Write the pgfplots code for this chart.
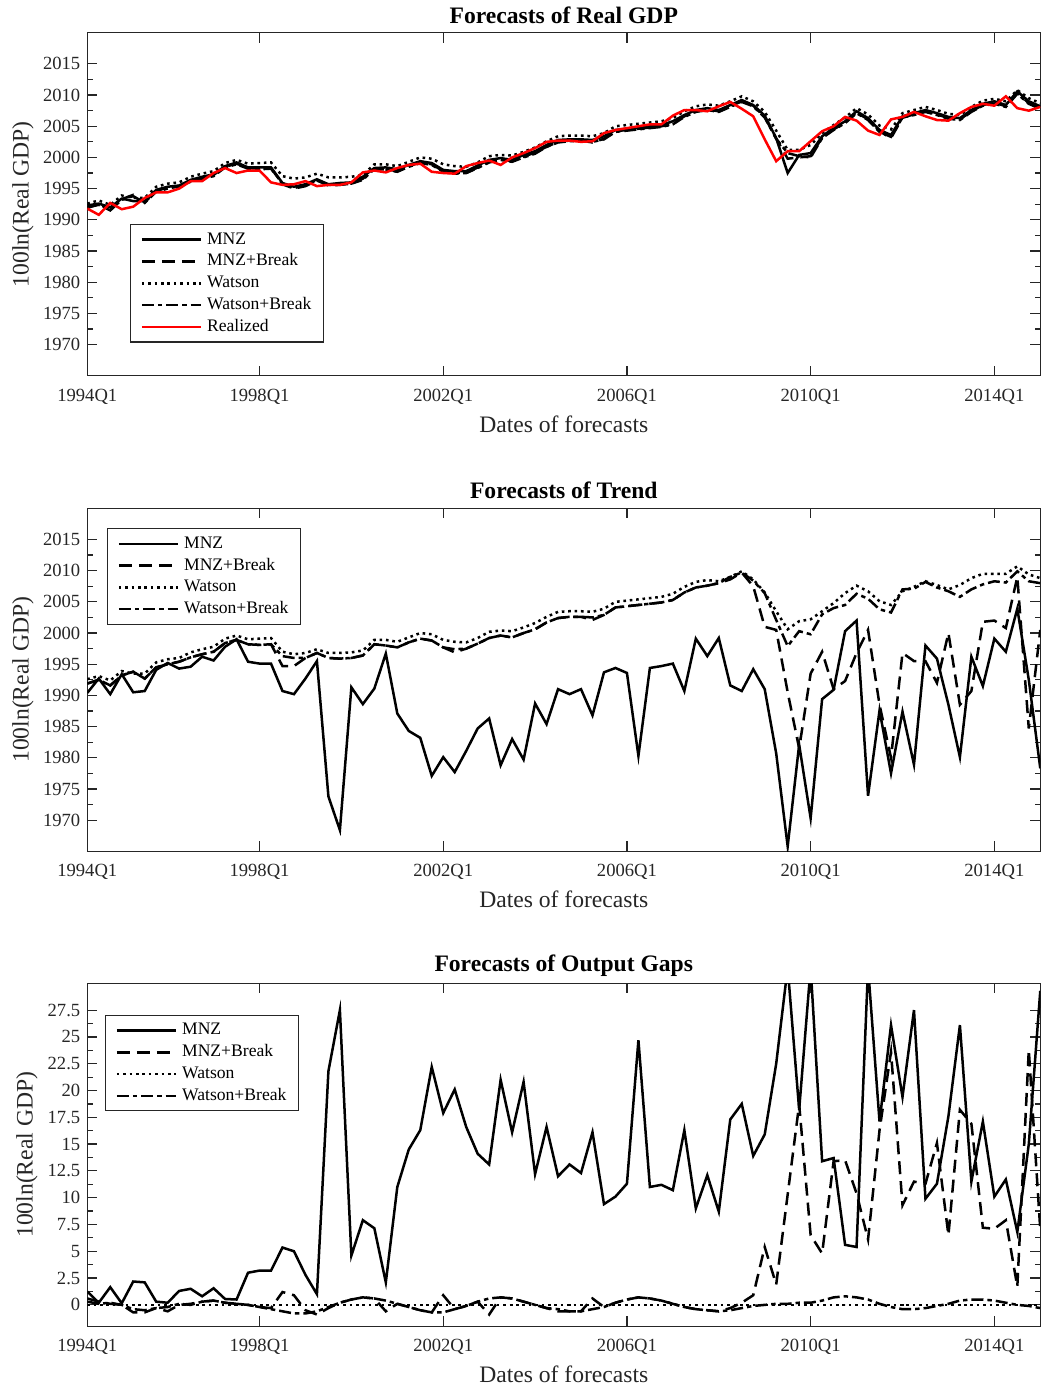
\documentclass[border=0pt]{standalone}
\usepackage{fontspec}
\setmainfont{Liberation Serif}
\usepackage{pgfplots}
\usepackage{pgfplotstable}
\pgfplotsset{compat=1.18}

\definecolor{axgray}{RGB}{38,38,38}

% quarter index 1 = 1994Q1
\pgfplotstableread{
q mnz mnzb wat watb real
1 1992.3 1992.0 1992.6 1991.9 1991.8
2 1992.6 1992.4 1993.1 1992.5 1990.8
3 1992.0 1991.5 1992.4 1991.6 1992.7
4 1993.4 1993.3 1993.9 1993.2 1991.7
5 1993.0 1994.0 1993.5 1993.8 1992.1
6 1993.0 1992.8 1993.5 1992.7 1993.5
7 1994.8 1994.6 1995.3 1994.5 1994.4
8 1995.3 1995.2 1995.8 1995.0 1994.4
9 1995.5 1995.3 1996.0 1995.4 1995.0
10 1996.4 1996.2 1996.9 1996.1 1996.2
11 1996.9 1996.7 1997.4 1996.6 1996.2
12 1997.3 1997.2 1997.8 1997.0 1997.5
13 1998.6 1998.5 1999.1 1998.4 1998.3
14 1999.2 1999.0 1999.6 1998.9 1997.5
15 1998.4 1998.3 1999.0 1998.2 1997.9
16 1998.4 1998.2 1999.1 1998.1 1997.9
17 1998.4 1998.3 1999.2 1998.2 1996.0
18 1995.9 1995.7 1997.0 1995.8 1995.6
19 1995.3 1995.0 1996.6 1995.1 1995.7
20 1995.7 1995.4 1996.8 1995.5 1996.2
21 1996.5 1996.3 1997.4 1996.4 1995.4
22 1995.7 1995.5 1996.8 1995.6 1995.6
23 1995.9 1995.6 1996.8 1995.7 1995.6
24 1996.0 1995.8 1996.9 1995.8 1996.0
25 1996.9 1996.6 1997.2 1996.4 1997.6
26 1998.3 1998.1 1998.9 1998.2 1997.9
27 1998.4 1998.1 1998.9 1998.0 1997.6
28 1998.1 1997.8 1998.6 1997.7 1998.3
29 1998.8 1998.6 1999.3 1998.5 1998.8
30 1999.4 1999.2 2000.0 1999.1 1999.0
31 1999.1 1998.9 1999.8 1998.8 1997.7
32 1998.0 1997.8 1998.9 1997.7 1997.5
33 1997.8 1997.6 1998.6 1997.4 1997.4
34 1997.8 1997.5 1998.5 1997.5 1998.6
35 1998.7 1998.4 1999.2 1998.3 1999.1
36 1999.6 1999.4 2000.2 1999.2 1999.5
37 1999.9 1999.7 2000.4 1999.6 1998.8
38 1999.6 1999.4 2000.3 1999.3 2000.0
39 2000.4 2000.1 2000.9 2000.0 2000.7
40 2001.0 2000.8 2001.6 2000.6 2001.5
41 2002.0 2001.7 2002.6 2001.7 2002.5
42 2002.8 2002.5 2003.4 2002.4 2002.7
43 2002.9 2002.7 2003.5 2002.6 2002.7
44 2002.9 2002.7 2003.5 2002.6 2002.5
45 2002.8 2002.4 2003.4 2002.5 2002.6
46 2003.4 2003.0 2003.9 2002.9 2003.9
47 2004.4 2004.2 2005.0 2004.1 2004.4
48 2004.6 2004.4 2005.2 2004.3 2004.7
49 2004.8 2004.6 2005.4 2004.5 2005.0
50 2005.0 2004.8 2005.6 2004.7 2005.3
51 2005.2 2005.0 2005.8 2004.9 2005.3
52 2005.8 2005.4 2006.3 2005.3 2006.7
53 2006.8 2006.6 2007.4 2006.5 2007.6
54 2007.6 2007.4 2008.2 2007.3 2007.6
55 2007.9 2007.7 2008.5 2007.6 2007.4
56 2007.6 2007.4 2008.3 2007.3 2008.2
57 2008.4 2008.2 2009.0 2008.1 2008.9
58 2009.2 2009.0 2009.8 2008.9 2007.8
59 2008.4 2008.3 2009.0 2008.2 2006.6
60 2006.7 2006.5 2007.3 2006.4 2002.9
61 2003.1 2003.0 2004.3 2003.0 1999.4
62 1997.5 1999.8 2001.2 2000.7 2001.0
63 2000.4 2000.0 2001.2 2000.2 2001.0
64 2000.7 2000.2 2002.0 2000.0 2002.6
65 2003.4 2003.2 2003.9 2003.1 2004.2
66 2004.7 2004.5 2005.2 2004.4 2005.0
67 2005.8 2005.6 2006.4 2005.5 2006.5
68 2007.4 2007.2 2007.9 2007.1 2005.9
69 2006.3 2006.1 2006.9 2006.0 2004.3
70 2004.4 2004.2 2005.1 2004.1 2003.6
71 2003.6 2003.1 2004.5 2003.3 2006.1
72 2006.6 2006.4 2007.1 2006.4 2006.5
73 2007.1 2006.9 2007.6 2006.8 2007.3
74 2007.6 2007.4 2008.1 2007.3 2006.6
75 2007.1 2006.9 2007.6 2006.8 2006.0
76 2006.5 2006.3 2007.0 2006.2 2005.9
77 2006.3 2006.1 2006.8 2006.0 2007.1
78 2007.6 2007.4 2008.1 2007.3 2008.1
79 2008.6 2008.4 2009.1 2008.3 2008.6
80 2009.0 2008.8 2009.4 2008.6 2008.3
81 2008.4 2008.2 2009.0 2008.1 2009.8
82 2010.6 2010.4 2010.8 2010.2 2007.9
83 2009.0 2008.7 2009.5 2008.6 2007.5
84 2008.2 2007.9 2008.7 2007.8 2008.1
}\gdp

\pgfplotstableread{
q mnz mnzb wat watb
1 1990.4 1991.9 1992.6 1991.9
2 1992.7 1992.5 1993.1 1992.5
3 1990.2 1991.6 1992.4 1991.6
4 1993.4 1993.2 1993.9 1993.2
5 1990.5 1993.8 1993.5 1993.8
6 1990.7 1992.7 1993.5 1992.7
7 1994.1 1994.5 1995.3 1994.5
8 1995.2 1995.0 1995.8 1995.0
9 1994.3 1995.4 1996.0 1995.4
10 1994.6 1996.1 1996.9 1996.1
11 1996.2 1996.6 1997.4 1996.6
12 1995.6 1997.0 1997.8 1997.0
13 1997.8 1998.4 1999.1 1998.4
14 1999.0 1998.9 1999.6 1998.9
15 1995.4 1998.2 1999.0 1998.2
16 1995.1 1998.1 1999.1 1998.1
17 1995.1 1998.2 1999.2 1998.2
18 1990.7 1994.7 1997.0 1996.3
19 1990.2 1994.7 1996.6 1996.0
20 1992.7 1996.0 1996.8 1996.0
21 1995.5 1996.8 1997.4 1996.8
22 1973.8 1996.0 1996.8 1996.0
23 1968.4 1995.9 1996.8 1995.9
24 1991.3 1996.0 1996.9 1996.0
25 1988.6 1996.4 1997.2 1996.4
26 1991.1 1998.2 1998.9 1998.2
27 1996.7 1998.0 1998.9 1998.0
28 1987.1 1997.7 1998.6 1997.7
29 1984.3 1998.5 1999.3 1998.5
30 1983.2 1999.1 2000.0 1999.1
31 1977.1 1998.8 1999.8 1998.8
32 1980.1 1997.7 1998.9 1997.7
33 1977.7 1996.9 1998.6 1997.4
34 1981.1 1997.5 1998.5 1997.5
35 1984.7 1998.3 1999.2 1998.3
36 1986.3 1999.2 2000.2 1999.2
37 1978.8 1999.6 2000.4 1999.6
38 1983.0 1999.3 2000.3 1999.3
39 1979.7 2000.0 2000.9 2000.0
40 1988.7 2000.6 2001.6 2000.6
41 1985.4 2001.7 2002.6 2001.7
42 1991.0 2002.4 2003.4 2002.4
43 1990.2 2002.6 2003.5 2002.6
44 1991.0 2002.6 2003.5 2002.6
45 1986.8 2002.1 2003.4 2002.5
46 1993.7 2002.9 2003.9 2002.9
47 1994.4 2004.1 2005.0 2004.1
48 1993.6 2004.3 2005.2 2004.3
49 1980.3 2004.5 2005.4 2004.5
50 1994.4 2004.7 2005.6 2004.7
51 1994.7 2004.9 2005.8 2004.9
52 1995.1 2005.3 2006.3 2005.3
53 1990.7 2006.5 2007.4 2006.5
54 1999.1 2007.3 2008.2 2007.3
55 1996.3 2007.6 2008.5 2007.6
56 1999.2 2008.0 2008.3 2008.0
57 1991.6 2008.6 2009.0 2009.0
58 1990.7 2009.7 2009.9 2009.7
59 1994.2 2007.5 2008.6 2008.4
60 1991.0 2001.0 2006.5 2006.4
61 1980.7 2000.5 2003.5 2002.1
62 1965.8 1990.5 2000.6 1997.9
63 1982.1 1981.5 2001.9 2000.3
64 1970.3 1993.5 2002.2 1999.8
65 1989.4 1997.0 2003.5 2003.0
66 1990.9 1991.0 2004.8 2004.0
67 2000.3 1992.3 2006.4 2004.5
68 2002.0 1996.8 2007.6 2006.3
69 1973.9 2000.5 2006.7 2005.5
70 1987.6 1988.5 2005.1 2003.8
71 1977.5 1980.0 2004.5 2003.3
72 1987.4 1996.8 2006.7 2007.0
73 1978.9 1995.5 2007.4 2007.1
74 1998.0 1995.5 2008.3 2008.2
75 1995.9 1992.0 2007.7 2007.3
76 1988.5 2000.0 2007.0 2006.7
77 1980.1 1988.5 2007.7 2005.8
78 1996.2 1990.7 2008.8 2007.0
79 1991.5 2001.8 2009.5 2007.8
80 1999.1 2002.0 2009.5 2008.3
81 1997.0 2000.8 2009.5 2008.1
82 2003.9 2009.0 2010.7 2009.9
83 1992.5 1984.7 2009.4 2008.3
84 1978.3 2000.5 2008.8 2008.0
}\trend

\pgfplotstableread{
q mnz mnzb wat watb
1 1.24 0.6 0.0 0.3
2 0.2 0.3 0.0 0.1
3 1.65 0.1 0.0 0.2
4 0.15 0.0 0.0 0.0
5 2.18 -0.7 0.0 -0.4
6 2.1 -0.7 0.0 -0.5
7 0.3 -0.3 0.0 -0.3
8 0.2 -0.6 0.0 -0.2
9 1.3 0.0 0.0 0.1
10 1.5 0.1 0.0 0.0
11 0.8 0.3 0.0 0.3
12 1.55 0.4 0.0 0.4
13 0.55 0.2 0.0 0.2
14 0.5 0.1 0.0 0.1
15 3.0 0.0 0.0 0.0
16 3.2 -0.2 0.0 -0.2
17 3.2 -0.3 0.0 -0.4
18 5.35 1.2 0.0 -0.6
19 5.0 0.9 0.0 -0.8
20 2.8 -0.5 0.0 -0.8
21 1.0 -0.9 0.0 -0.6
22 21.8 -0.3 0.0 -0.2
23 27.5 0.2 0.0 0.2
24 4.6 0.5 0.0 0.5
25 7.9 0.7 0.0 0.7
26 7.15 0.6 0.0 0.6
27 2.1 -0.6 0.0 0.4
28 11.0 0.1 0.0 0.1
29 14.5 -0.2 0.0 -0.2
30 16.3 -0.5 0.0 -0.5
31 22.2 -0.7 0.0 -0.7
32 17.9 0.9 0.0 -0.7
33 20.1 -0.4 0.0 -0.4
34 16.6 -0.1 0.0 -0.1
35 14.1 0.3 0.0 0.3
36 13.1 -0.9 0.0 0.6
37 21.0 0.7 0.0 0.7
38 16.1 0.6 0.0 0.6
39 20.8 0.3 0.0 0.3
40 12.2 0.0 0.0 0.0
41 16.6 -0.3 0.0 -0.3
42 12.0 -0.6 0.0 -0.4
43 13.1 -0.6 0.0 -0.6
44 12.3 -0.6 0.0 -0.6
45 16.1 0.6 0.0 -0.4
46 9.4 -0.2 0.0 -0.2
47 10.1 0.2 0.0 0.2
48 11.3 0.5 0.0 0.5
49 24.7 0.7 0.0 0.7
50 11.0 0.6 0.0 0.6
51 11.2 0.4 0.0 0.4
52 10.7 0.1 0.0 0.1
53 16.3 -0.2 0.0 -0.2
54 9.0 -0.4 0.0 -0.4
55 12.1 -0.5 0.0 -0.5
56 8.7 -0.6 0.0 -0.6
57 17.3 -0.3 0.0 -0.5
58 18.75 0.2 0.0 -0.3
59 13.9 0.9 0.0 -0.1
60 15.9 5.4 0.0 0.0
61 22.5 1.9 0.0 0.1
62 31.5 10.3 0.0 0.1
63 18.2 18.7 0.0 0.2
64 31.5 6.5 0.0 0.2
65 13.4 4.8 0.0 0.4
66 13.7 13.4 0.0 0.7
67 5.6 13.5 0.0 0.8
68 5.4 10.4 0.0 0.7
69 31.5 6.1 0.0 0.5
70 17.1 16.3 0.0 0.1
71 26.1 23.6 0.0 -0.2
72 19.4 9.3 0.0 -0.4
73 27.5 11.5 0.0 -0.4
74 9.9 11.3 0.0 -0.3
75 11.3 15.1 0.0 -0.1
76 17.6 6.5 0.0 0.1
77 26.1 18.2 0.0 0.4
78 11.5 16.9 0.0 0.5
79 17.1 7.2 0.0 0.5
80 10.1 7.1 0.0 0.4
81 11.7 7.9 0.0 0.2
82 6.8 1.7 0.0 0.0
83 15.0 23.8 0.0 -0.1
84 29.3 7.0 0.0 -0.3
}\gap

\pgfplotsset{
  panel/.style={
    scale only axis, width=476.5pt, height=171.5pt,
    anchor=north west,
    xmin=1, xmax=84,
    xtick={1,16,32,48,64,80},
    xticklabels={1994Q1,1998Q1,2002Q1,2006Q1,2010Q1,2014Q1},
    minor x tick num=9, minor y tick num=1,
    major tick length=5pt, minor tick length=2.7pt,
    tick style={axgray, line width=0.6pt},
    axis line style={axgray, line width=0.75pt},
    ticklabel style={font=\fontsize{9.3}{11}\selectfont, text=axgray},
    xticklabel style={yshift=-3pt},
    /pgf/number format/assume math mode=true,
    /pgf/number format/1000 sep={},
    xlabel={Dates of forecasts}, ylabel={100ln(Real GDP)},
    label style={font=\fontsize{11.8}{14}\selectfont, text=axgray},
    xlabel style={at={(axis description cs:0.5,0)}, anchor=center, yshift=-24.2pt},
    title style={font=\bfseries\fontsize{11.8}{14}\selectfont,
      at={(axis description cs:0.5,1)}, anchor=center, yshift=2.9pt},
    legend cell align=left,
    legend style={draw=axgray, line width=0.6pt, anchor=north west,
      font=\fontsize{8.8}{10}\selectfont, inner xsep=5pt, inner ysep=2.5pt,
      row sep=0.9pt, column sep=1.5pt,
      nodes={inner sep=1pt, text height=6.2pt, text depth=1.8pt}},
    legend image code/.code={\draw[##1] (0pt,0pt) -- (29.5pt,0pt);},
    legend image post style={line width=1.25pt},
  },
  smnz/.style={black, line width=1.25pt},
  smnzb/.style={black, line width=1.25pt, dash pattern=on 6.5pt off 3.5pt},
  swat/.style={black, line width=1.25pt, dash pattern=on 1.3pt off 1.9pt},
  swatb/.style={black, line width=1.25pt, dash pattern=on 6pt off 2pt on 2.2pt off 2pt},
  sreal/.style={red, line width=1.25pt},
}

\begin{document}
\begin{tikzpicture}
\begin{axis}[panel, at={(43.65pt,-16.35pt)},
    ymin=1965, ymax=2020, ytick={1970,1975,1980,1985,1990,1995,2000,2005,2010,2015},
    ylabel style={at={(axis description cs:-0.0675,0.5)}, anchor=center},
    title={Forecasts of Real GDP},
    legend style={at={(axis description cs:0.0448,0.442)}}]
\addplot[smnz] table[x=q, y=mnz] {\gdp};
\addplot[smnzb] table[x=q, y=mnzb] {\gdp};
\addplot[swat] table[x=q, y=wat] {\gdp};
\addplot[swatb] table[x=q, y=watb] {\gdp};
\addplot[sreal] table[x=q, y=real] {\gdp};
\legend{MNZ, MNZ+Break, Watson, Watson+Break, Realized}
\end{axis}

\begin{axis}[panel, at={(43.65pt,-254.15pt)},
    ymin=1965, ymax=2020, ytick={1970,1975,1980,1985,1990,1995,2000,2005,2010,2015},
    ylabel style={at={(axis description cs:-0.0675,0.5)}, anchor=center},
    title={Forecasts of Trend},
    legend style={at={(axis description cs:0.0207,0.942)}}]
\addplot[smnz] table[x=q, y=mnz] {\trend};
\addplot[smnzb] table[x=q, y=mnzb] {\trend};
\addplot[swat] table[x=q, y=wat] {\trend};
\addplot[swatb] table[x=q, y=watb] {\trend};
\legend{MNZ, MNZ+Break, Watson, Watson+Break}
\end{axis}

\begin{axis}[panel, at={(43.65pt,-491.65pt)},
    ymin=-2, ymax=30, ytick={0,2.5,5,7.5,10,12.5,15,17.5,20,22.5,25,27.5},
    ylabel style={at={(axis description cs:-0.0633,0.5)}, anchor=center},
    title={Forecasts of Output Gaps},
    legend style={at={(axis description cs:0.0186,0.908)}}]
\addplot[smnz] table[x=q, y=mnz] {\gap};
\addplot[smnzb] table[x=q, y=mnzb] {\gap};
\addplot[swat] table[x=q, y=wat] {\gap};
\addplot[swatb] table[x=q, y=watb] {\gap};
\legend{MNZ, MNZ+Break, Watson, Watson+Break}
\end{axis}
\pgfresetboundingbox
\path[use as bounding box] (0pt,0pt) rectangle (520.5pt,-694.5pt);
\end{tikzpicture}
\end{document}
